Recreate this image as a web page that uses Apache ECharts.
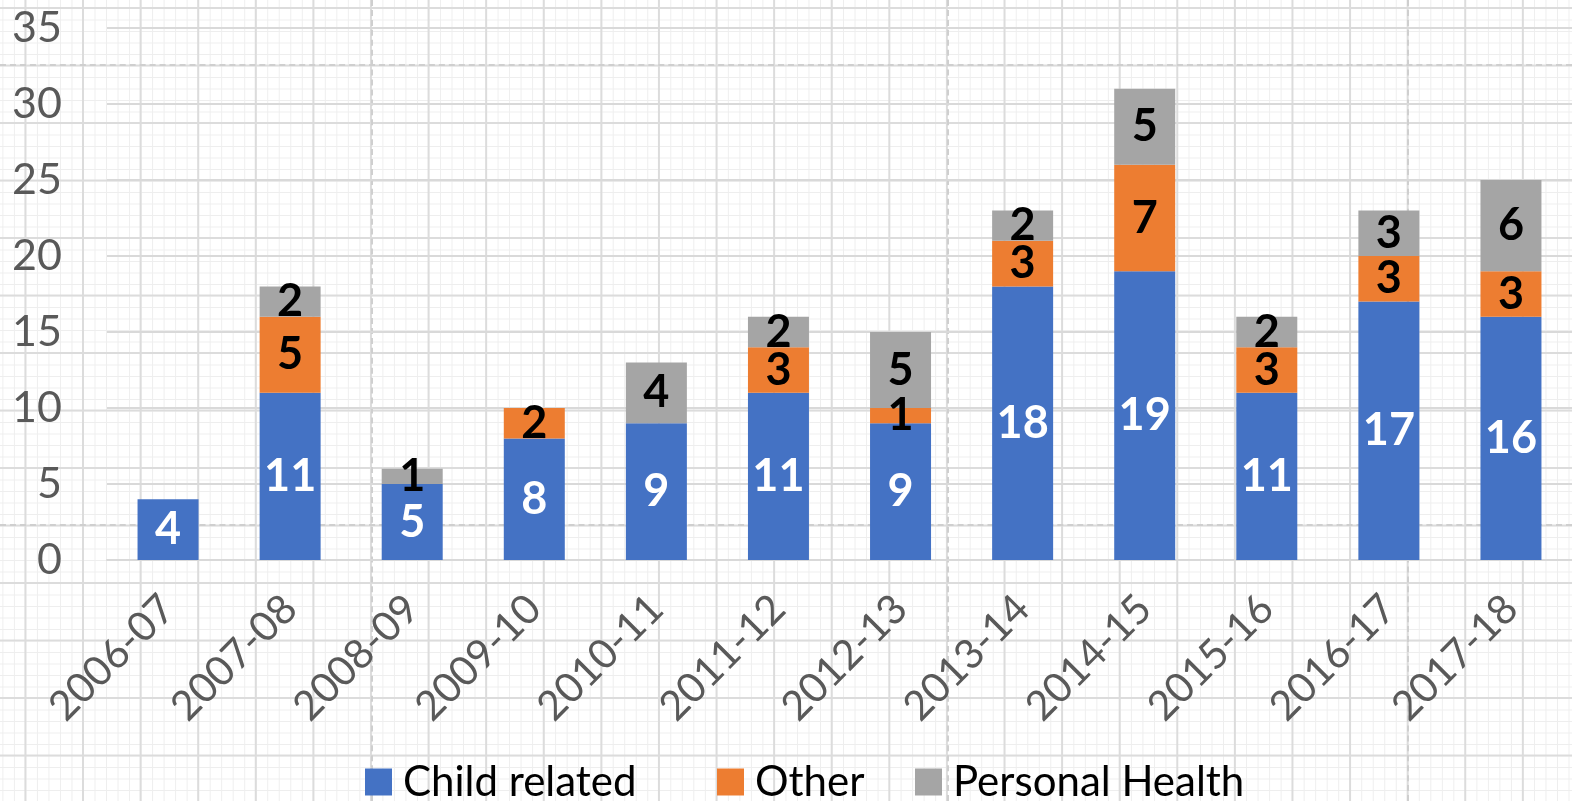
<!DOCTYPE html>
<html>
<head>
<meta charset="utf-8">
<script src="https://cdn.jsdelivr.net/npm/echarts@6/dist/echarts.min.js"></script>
<style>
  html, body { margin: 0; padding: 0; }
  #wrap {
    position: relative; width: 1572px; height: 801px; overflow: hidden;
    background-color: #ffffff;
    background-image:
      linear-gradient(to right, #dcdcdc 2px, transparent 2px),
      linear-gradient(to bottom, #dcdcdc 2px, transparent 2px),
      linear-gradient(to right, #eeeeee 1px, transparent 1px),
      linear-gradient(to bottom, #eeeeee 1px, transparent 1px);
    background-size: 57.6px 100%, 100% 57.5px, 11.52px 100%, 100% 11.5px;
    background-position: 82px 0, 0 7px, 83px 0, 0 8px;
  }
  .vdash { position: absolute; top: 0; height: 801px; width: 0; border-left: 2px dashed #cfcfcf; }
  .hdash { position: absolute; left: 0; width: 1572px; height: 0; border-top: 2px dashed #cfcfcf; }
  #chart { position: absolute; left: 0; top: 0; width: 1572px; height: 801px; }
</style>
</head>
<body>
<div id="wrap">
  <div class="vdash" style="left:371px"></div>
  <div class="vdash" style="left:947px"></div>
  <div class="vdash" style="left:1407px"></div>
  <div class="hdash" style="top:64px"></div>
  <div class="hdash" style="top:524px"></div>
  <div id="chart"></div>
</div>
<script>
const categories = ['2006-07','2007-08','2008-09','2009-10','2010-11','2011-12','2012-13','2013-14','2014-15','2015-16','2016-17','2017-18'];
const childRelated = [4, 11, 5, 8, 9, 11, 9, 18, 19, 11, 17, 16];
const other = [null, 5, null, 2, null, 3, 1, 3, 7, 3, 3, 3];
const personalHealth = [null, 2, 1, null, 4, 2, 5, 2, 5, 2, 3, 6];
const seriesNames = ['Child related', 'Other', 'Personal Health'];
const seriesColors = ['#4472C4', '#ED7D31', '#A5A5A5'];
const labelColors = ['#ffffff', '#000000', '#000000'];
const legendLefts = [360, 712, 910];

const FONT = 'Lato, "Open Sans", sans-serif';
const chart = echarts.init(document.getElementById('chart'), null, { renderer: 'canvas' });
const values = [childRelated, other, personalHealth];

chart.setOption({
  backgroundColor: 'transparent',
  animation: false,
  textStyle: { fontFamily: FONT },
  grid: { left: 107, top: 28, width: 1472, bottom: 241, containLabel: false },
  legend: seriesNames.map((name, i) => ({
    left: legendLefts[i], top: 756,
    itemWidth: 27, itemHeight: 27,
    icon: 'rect',
    textStyle: { fontSize: 42, color: '#000000', fontFamily: FONT, padding: [0, 0, 0, 6] },
    data: [name]
  })),
  xAxis: {
    type: 'category',
    data: categories,
    axisLine: { show: true, lineStyle: { color: '#d9d9d9', width: 2 } },
    axisTick: { show: false },
    axisLabel: { rotate: 45, fontSize: 41, color: '#595959', margin: 42, padding: [46, 0, 0, 0], fontFamily: FONT, interval: 0 },
    splitLine: { show: false }
  },
  yAxis: {
    type: 'value',
    min: 0, max: 35, interval: 5,
    axisLine: { show: false },
    axisTick: { show: false },
    axisLabel: { fontSize: 43, color: '#595959', margin: 45, fontFamily: FONT },
    splitLine: { show: true, lineStyle: { color: '#d9d9d9', width: 2 } }
  },
  series: seriesNames.map((name, i) => ({
    name: name,
    type: 'bar',
    stack: 'total',
    barWidth: 61,
    data: values[i],
    itemStyle: { color: seriesColors[i] },
    label: {
      show: true,
      position: 'inside',
      color: labelColors[i],
      fontSize: 45,
      fontWeight: 'bold',
      fontFamily: FONT,
      textBorderWidth: 0
    }
  }))
});
</script>
</body>
</html>
